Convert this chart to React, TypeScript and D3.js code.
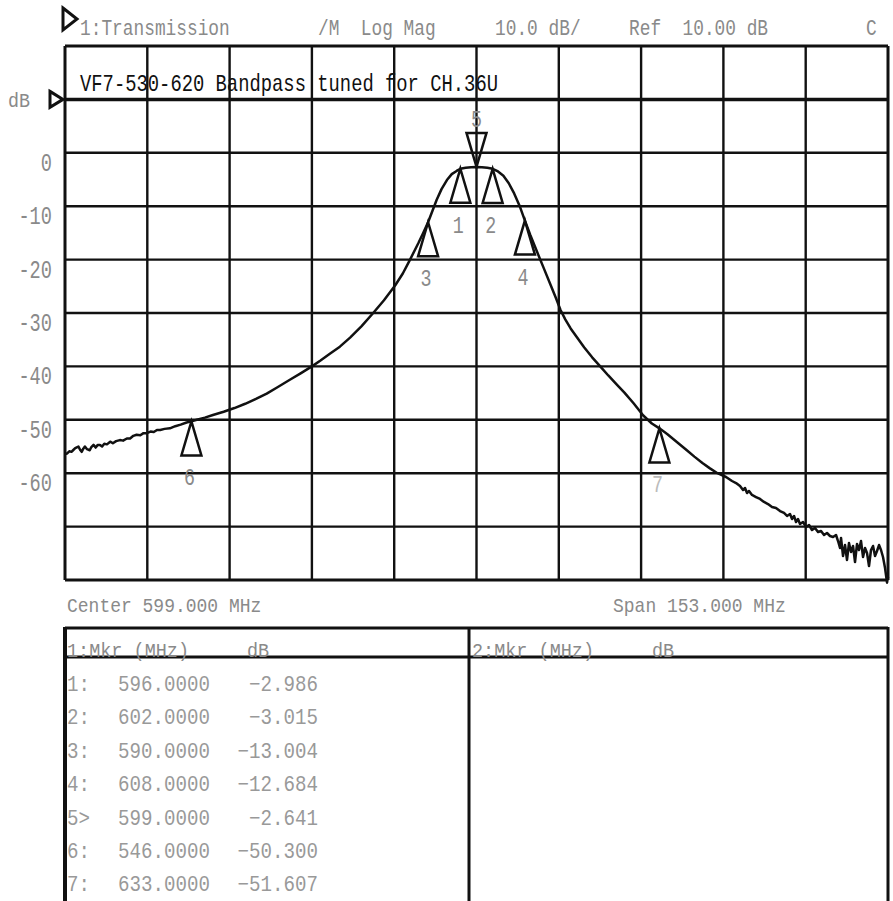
import * as d3 from 'd3'

// analyzer sweep (MHz) and transmission (dB)
const traceMHz = [
  522.5, 522.9, 523.3, 523.7, 524.0, 524.4, 524.8, 525.0, 525.3, 525.6, 525.9, 526.2, 526.6, 527.1, 527.4,
  527.8, 528.2, 528.6, 529.0, 529.4, 529.8, 530.3, 530.9, 531.4, 532.0, 532.7, 533.3, 534.0, 534.6, 535.2,
  535.8, 536.5, 537.1, 537.7, 538.4, 539.0, 539.6, 540.2, 541.0, 542.0, 543.0, 544.0, 545.1, 546.0, 547.0,
  548.5, 550.0, 552.0, 554.0, 556.0, 558.0, 560.0, 562.0, 564.3, 566.3, 568.4, 570.0, 571.8, 573.6, 575.5,
  577.6, 579.8, 581.8, 583.9, 585.3, 586.6, 588.2, 589.0, 590.0, 590.8, 591.6, 592.5, 593.5, 594.4, 595.3,
  596.0, 597.0, 598.0, 599.0, 600.0, 601.0, 602.0, 603.0, 604.0, 605.0, 606.0, 607.0, 608.0, 609.0, 610.2,
  611.5, 612.8, 613.8, 614.6, 615.5, 616.5, 617.7, 619.0, 620.5, 622.0, 623.5, 625.0, 626.5, 628.2, 630.0,
  631.6, 633.0, 634.5, 636.3, 638.1, 639.5, 641.0, 642.4, 643.8, 645.39, 646.5, 647.25, 647.99, 648.55, 648.92,
  649.29, 649.66, 650.22, 650.96, 651.71, 652.45, 653.19, 653.94, 654.68, 655.43, 656.17, 656.73, 657.28, 657.66, 658.03,
  658.4, 658.77, 659.14, 659.7, 660.26, 660.82, 661.37, 661.93, 662.49, 663.05, 663.61, 664.16, 664.72, 665.28, 665.84,
  666.21, 666.58, 666.77, 667.14, 667.51, 667.88, 668.25, 668.63, 669.0, 669.37, 669.74, 670.11, 670.48, 670.86, 671.23,
  671.6, 671.97, 672.34, 672.72, 673.09, 673.46, 673.83, 674.2, 674.57, 674.95, 675.32, 675.5,
]
const traceDb = [
  -56.4, -56.3, -55.9, -56.0, -55.7, -55.3, -55.1, -55.0, -55.6, -56.0, -55.4, -55.0, -55.5, -55.7, -55.1,
  -54.7, -55.2, -54.7, -54.7, -55.0, -54.5, -54.6, -54.1, -54.4, -54.0, -53.8, -53.9, -53.5, -53.5, -53.0,
  -52.8, -52.9, -52.5, -52.5, -52.2, -52.3, -51.9, -51.9, -51.7, -51.6, -51.2, -50.9, -50.5, -50.3, -50.0,
  -49.6, -49.1, -48.5, -47.8, -47.0, -46.1, -45.1, -43.9, -42.5, -41.3, -40.0, -38.9, -37.6, -36.3, -34.6,
  -32.5, -30.0, -27.6, -24.8, -22.6, -20.1, -16.9, -15.2, -13.0, -10.9, -8.8, -6.8, -5.1, -4.0, -3.4,
  -3.0, -2.8, -2.7, -2.64, -2.7, -2.8, -3.0, -3.5, -4.3, -5.7, -7.6, -9.9, -12.7, -15.4, -18.4,
  -21.6, -24.8, -27.3, -29.4, -31.2, -32.9, -34.6, -36.4, -38.3, -40.0, -41.7, -43.3, -44.9, -46.9, -49.2,
  -50.7, -51.6, -52.7, -54.2, -55.7, -56.9, -58.1, -59.1, -60.0, -60.71, -61.46, -61.84, -62.4, -63.15, -62.77,
  -63.71, -63.33, -64.08, -64.46, -64.83, -65.39, -65.77, -66.33, -66.52, -67.08, -67.45, -68.01, -67.64, -68.58, -68.01,
  -69.14, -68.58, -69.51, -69.14, -70.07, -69.7, -70.64, -70.26, -71.01, -70.82, -71.57, -71.2, -71.76, -71.95, -71.57,
  -72.7, -74.01, -72.13, -75.51, -73.45, -76.25, -73.07, -74.76, -73.63, -76.63, -73.26, -74.38, -72.7, -75.69, -74.01,
  -74.94, -77.38, -74.38, -73.63, -75.51, -74.57, -73.45, -74.38, -75.69, -77.75, -80.5, -79.4,
]

const markerNo = ['1', '2', '3', '4', '5', '6', '7']
const markerRow = ['1:', '2:', '3:', '4:', '5>', '6:', '7:']
const markerMHz = [596, 602, 590, 608, 599, 546, 633]
const markerDb = [-2.986, -3.015, -13.004, -12.684, -2.641, -50.3, -51.607]
const activeMarker = 4

const yTicks = [0, -10, -20, -30, -40, -50, -60]
const centerMHz = 599
const spanMHz = 153
const refDb = 10
const dbPerDiv = 10

const W = 893
const H = 901
const left = 65
const right = 888
const top = 46
const bottom = 580
const grey = '#8a8a8a'
const font = "'Liberation Mono', 'DejaVu Sans Mono', monospace"

function Mono({ x, y, size, cw, anchor = 'start', fill = grey, children }: any) {
  const sx = cw / (0.6 * size)
  return (
    <text
      transform={`translate(${x},${y}) scale(${sx},1)`}
      fontFamily={font}
      fontSize={size}
      textAnchor={anchor}
      fill={fill}
      style={{ whiteSpace: 'pre' }}
    >
      {children}
    </text>
  )
}

export default function App() {
  const x = d3
    .scaleLinear()
    .domain([centerMHz - spanMHz / 2, centerMHz + spanMHz / 2])
    .range([left, right])
  // 10 divisions: ref line sits one division below the top
  const y = d3
    .scaleLinear()
    .domain([refDb - 9 * dbPerDiv, refDb + dbPerDiv])
    .range([bottom, top])

  const vLines = d3.range(11).map((i) => centerMHz - spanMHz / 2 + (i * spanMHz) / 10)
  const hLines = d3.range(11).map((i) => refDb + dbPerDiv - i * dbPerDiv)

  const pts: [number, number][] = traceMHz.map((f, i) => [f, traceDb[i]])
  const line = d3
    .line<[number, number]>()
    .x((d) => x(d[0]))
    .y((d) => y(d[1]))

  const fmtF = d3.format('.4f')
  const fmtD = d3.format('.3f')

  const tw = 10
  const th = 34

  return (
    <svg width={W} height={H} style={{ position: 'absolute', left: 0, top: 0, background: '#fff' }}>
      {/* header line */}
      <path d="M63,8 L77,19 L63,30 Z" fill="none" stroke="#111" strokeWidth={3} />
      <Mono x={80} y={35} size={22} cw={10.7}>1:Transmission</Mono>
      <Mono x={318} y={35} size={22} cw={10.7}>/M  Log Mag</Mono>
      <Mono x={495} y={35} size={22} cw={10.7}>10.0 dB/</Mono>
      <Mono x={629} y={35} size={22} cw={10.7}>Ref  10.00 dB</Mono>
      <Mono x={866} y={35} size={22} cw={10.7}>C</Mono>

      {/* grid */}
      <g stroke="#111">
        {vLines.map((f, i) => (
          <line key={'v' + i} x1={x(f)} x2={x(f)} y1={top} y2={bottom} strokeWidth={i === 0 || i === 10 ? 3 : 2.4} />
        ))}
        {hLines.map((d, i) => (
          <line
            key={'h' + i}
            x1={left}
            x2={right}
            y1={y(d)}
            y2={y(d)}
            strokeWidth={d === refDb ? 3.5 : i === 0 || i === 10 ? 3 : 2.4}
          />
        ))}
      </g>

      {/* reference marker */}
      <Mono x={8} y={107} size={20} cw={11}>dB</Mono>
      <path d={`M50,${y(refDb) - 8} L63,${y(refDb)} L50,${y(refDb) + 8} Z`} fill="none" stroke="#111" strokeWidth={3} />

      {yTicks.map((t) => (
        <Mono key={t} x={52} y={y(t) + 18} size={25} cw={11.2} anchor="end">
          {String(t)}
        </Mono>
      ))}

      <Mono x={80} y={91} size={24} cw={11.3} fill="#111">
        VF7-530-620 Bandpass tuned for CH.36U
      </Mono>

      {/* trace */}
      <path d={line(pts) || ''} fill="none" stroke="#111" strokeWidth={2.5} strokeLinejoin="round" />

      {/* markers */}
      {markerMHz.map((f, i) => {
        const mx = x(f)
        const my = y(markerDb[i])
        if (i === activeMarker) {
          return (
            <g key={i}>
              <path d={`M${mx - tw},${my - th} L${mx + tw},${my - th} L${mx},${my} Z`} fill="none" stroke="#111" strokeWidth={2.5} />
              <Mono x={mx} y={my - th - 6} size={24} cw={11} anchor="middle">
                {markerNo[i]}
              </Mono>
            </g>
          )
        }
        return (
          <g key={i}>
            <path d={`M${mx},${my} L${mx + tw},${my + th} L${mx - tw},${my + th} Z`} fill="none" stroke="#111" strokeWidth={2.5} />
            <Mono x={mx - 2} y={my + th + 30} size={24} cw={11} anchor="middle" fill={i === 6 ? '#bbb' : grey}>
              {markerNo[i]}
            </Mono>
          </g>
        )
      })}

      {/* sweep info */}
      <Mono x={67} y={612} size={21} cw={10.8}>{`Center ${d3.format('.3f')(centerMHz)} MHz`}</Mono>
      <Mono x={613} y={612} size={21} cw={10.8}>{`Span ${d3.format('.3f')(spanMHz)} MHz`}</Mono>

      {/* marker table */}
      <g stroke="#111" fill="none">
        <line x1={left} x2={right} y1={628} y2={628} strokeWidth={3} />
        <line x1={left} x2={right} y1={657} y2={657} strokeWidth={3} />
        <line x1={left} x2={left} y1={627} y2={905} strokeWidth={4} />
        <line x1={469} x2={469} y1={627} y2={905} strokeWidth={3} />
        <line x1={right} x2={right} y1={627} y2={905} strokeWidth={3} />
      </g>
      <Mono x={67} y={657} size={20} cw={11.1}>1:Mkr (MHz)</Mono>
      <Mono x={247} y={657} size={20} cw={11.1}>dB</Mono>
      <Mono x={472} y={657} size={20} cw={11.1}>2:Mkr (MHz)</Mono>
      <Mono x={652} y={657} size={20} cw={11.1}>dB</Mono>
      {markerMHz.map((f, i) => {
        const by = 691 + i * 33.4
        return (
          <g key={'r' + i}>
            <Mono x={67} y={by} size={22} cw={11.5} fill="#999">{markerRow[i]}</Mono>
            <Mono x={210} y={by} size={22} cw={11.5} fill="#999" anchor="end">{fmtF(f)}</Mono>
            <Mono x={318} y={by} size={22} cw={11.5} fill="#999" anchor="end">{fmtD(markerDb[i])}</Mono>
          </g>
        )
      })}
    </svg>
  )
}
